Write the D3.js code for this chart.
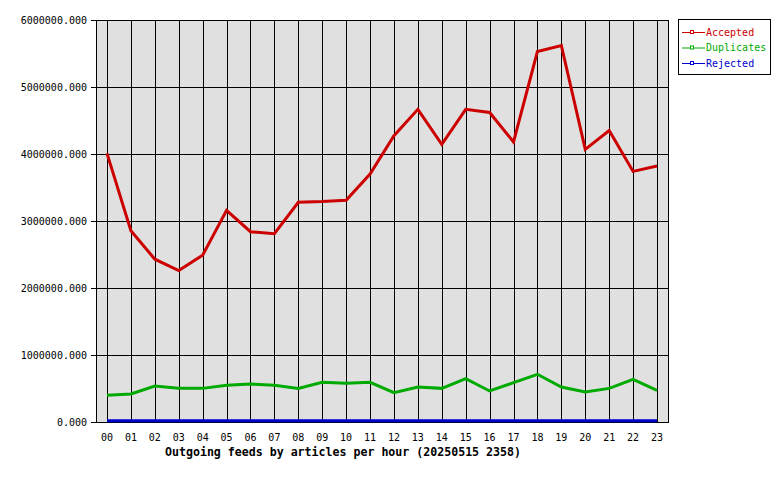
<!DOCTYPE html>
<html>
<head>
<meta charset="utf-8">
<script src="https://cdn.jsdelivr.net/npm/d3@7"></script>
<style>
    body { margin: 0; background: #fff; }
    text { font-family: "DejaVu Sans Mono", monospace; }
</style>
</head>
<body>
<div id="chart"></div>
<script>
// hourly values
const hours = ["00","01","02","03","04","05","06","07","08","09","10","11",
               "12","13","14","15","16","17","18","19","20","21","22","23"];
const accepted = [4010000, 2855000, 2430000, 2260000, 2490000, 3160000, 2840000, 2810000,
                  3280000, 3290000, 3310000, 3700000, 4273000, 4667000, 4145000, 4667000,
                  4620000, 4180000, 5530000, 5620000, 4070000, 4350000, 3740000, 3820000];
const duplicates = [398000, 418000, 537000, 502000, 502000, 547000, 567000, 547000,
                    502000, 592000, 577000, 592000, 438000, 522000, 502000, 647000,
                    463000, 587000, 712000, 522000, 448000, 502000, 637000, 473000];
const rejected = [20000, 20000, 20000, 20000, 20000, 20000, 20000, 20000,
                  20000, 20000, 20000, 20000, 20000, 20000, 20000, 20000,
                  20000, 20000, 20000, 20000, 20000, 20000, 20000, 20000];
const yTicks = [0, 1000000, 2000000, 3000000, 4000000, 5000000, 6000000];
const seriesNames = ["Accepted", "Duplicates", "Rejected"];
const seriesColors = ["#cc0000", "#00aa00", "#0000cc"];
const title = "Outgoing feeds by articles per hour (20250515 2358)";

const series = [accepted, duplicates, rejected];

const W = 780, H = 480;
const plot = { left: 96, right: 668, top: 20, bottom: 422 };

const svg = d3.select('#chart').append('svg')
    .attr('width', W)
    .attr('height', H);

const x = d3.scalePoint()
    .domain(hours)
    .range([plot.left, plot.right])
    .padding(0.46);
const y = d3.scaleLinear()
    .domain([0, 6000000])
    .range([plot.bottom, plot.top]);

svg.append('rect')
    .attr('x', plot.left).attr('y', plot.top)
    .attr('width', plot.right - plot.left).attr('height', plot.bottom - plot.top)
    .attr('fill', '#e0e0e0');

// vertical grid
svg.selectAll('.vgrid')
    .data(hours)
    .enter().append('line')
    .attr('x1', d => Math.round(x(d)) + 0.5).attr('x2', d => Math.round(x(d)) + 0.5)
    .attr('y1', plot.top).attr('y2', plot.bottom)
    .attr('stroke', '#000').attr('shape-rendering', 'crispEdges');

// horizontal grid + ticks
svg.selectAll('.hgrid')
    .data(yTicks)
    .enter().append('line')
    .attr('x1', plot.left - 5).attr('x2', plot.right)
    .attr('y1', d => Math.round(y(d)) + 0.5).attr('y2', d => Math.round(y(d)) + 0.5)
    .attr('stroke', '#000').attr('shape-rendering', 'crispEdges');

svg.selectAll('.ylab')
    .data(yTicks)
    .enter().append('text')
    .attr('x', plot.left - 9)
    .attr('y', d => y(d))
    .attr('dy', '0.35em')
    .attr('text-anchor', 'end')
    .attr('font-size', '10px')
    .text(d => d.toFixed(3));

svg.selectAll('.xlab')
    .data(hours)
    .enter().append('text')
    .attr('x', d => x(d))
    .attr('y', 437)
    .attr('dy', '0.35em')
    .attr('text-anchor', 'middle')
    .attr('font-size', '10px')
    .text(d => d);

// plot frame
svg.append('rect')
    .attr('x', plot.left + 0.5).attr('y', plot.top + 0.5)
    .attr('width', plot.right - plot.left).attr('height', plot.bottom - plot.top)
    .attr('fill', 'none').attr('stroke', '#000')
    .attr('shape-rendering', 'crispEdges');

const line = d3.line()
    .x((d, i) => x(hours[i]))
    .y(d => y(d));

svg.selectAll('.series')
    .data(series)
    .enter().append('path')
    .attr('d', d => line(d))
    .attr('fill', 'none')
    .attr('stroke', (d, i) => seriesColors[i])
    .attr('stroke-width', 3);

svg.append('text')
    .attr('x', 343)
    .attr('y', 452)
    .attr('dy', '0.35em')
    .attr('text-anchor', 'middle')
    .attr('font-size', '11.6px')
    .attr('font-weight', 'bold')
    .text(title);

// legend
const legend = svg.append('g');
legend.append('rect')
    .attr('x', 678.5).attr('y', 19.5)
    .attr('width', 92).attr('height', 55)
    .attr('fill', '#fff').attr('stroke', '#000');

const item = legend.selectAll('.item')
    .data(seriesNames)
    .enter().append('g')
    .attr('transform', (d, i) => `translate(0,${32 + i * 15.5})`);
item.append('line')
    .attr('x1', 682).attr('x2', 705)
    .attr('y1', 0.5).attr('y2', 0.5)
    .attr('stroke', (d, i) => seriesColors[i]);
item.append('rect')
    .attr('x', 690.5).attr('y', -1.5)
    .attr('width', 3).attr('height', 3)
    .attr('fill', '#fff')
    .attr('stroke', (d, i) => seriesColors[i]);
item.append('text')
    .attr('x', 706)
    .attr('y', 0)
    .attr('dy', '0.35em')
    .attr('font-size', '10px')
    .attr('fill', (d, i) => seriesColors[i])
    .text(d => d);
</script>
</body>
</html>
